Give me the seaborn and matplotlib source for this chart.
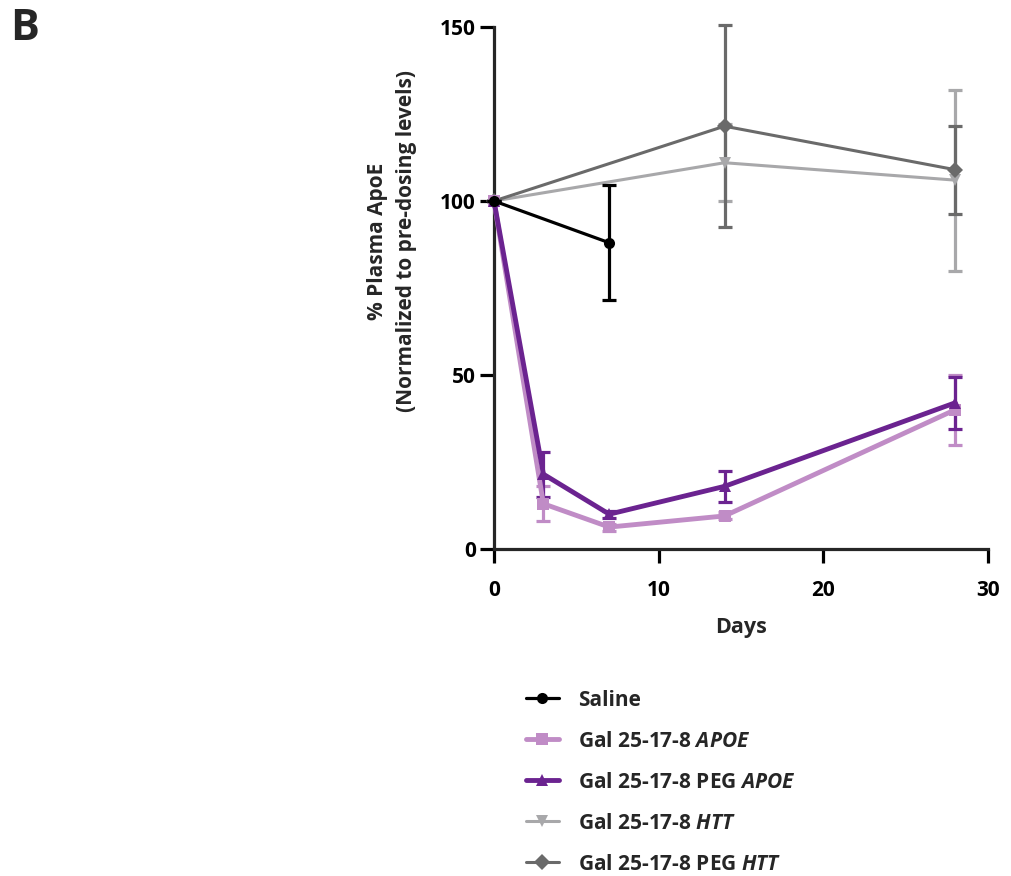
import numpy as np
import pandas as pd
import seaborn as sns
import matplotlib.pyplot as plt
from matplotlib.lines import Line2D

sns.set_style("ticks")
plt.rcParams['font.family'] = ['Open Sans', 'DejaVu Sans']
plt.rcParams['font.weight'] = 'bold'
plt.rcParams['mathtext.fontset'] = 'custom'
plt.rcParams['mathtext.it'] = 'Open Sans:bold:italic'
plt.rcParams['mathtext.rm'] = 'Open Sans:bold'

# Dados (media +/- SEM)
groups = ["Saline", "Gal 25-17-8 $\\it{APOE}$", "Gal 25-17-8 PEG $\\it{APOE}$",
          "Gal 25-17-8 $\\it{HTT}$", "Gal 25-17-8 PEG $\\it{HTT}$"]
saline_days = [0, 7]
saline_mean = [100, 88]
saline_sem = [0, 16.5]
apoe_days = [0, 3, 7, 14, 28]
apoe_mean = [100, 13, 6.3, 9.5, 40]
apoe_sem = [0, 5, 1, 1, 10]
peg_apoe_days = [0, 3, 7, 14, 28]
peg_apoe_mean = [100, 21.5, 10, 18, 42]
peg_apoe_sem = [0, 6.5, 1, 4.5, 7.5]
htt_days = [0, 14, 28]
htt_mean = [100, 111, 106]
htt_sem = [0, 11, 26]
peg_htt_days = [0, 14, 28]
peg_htt_mean = [100, 121.5, 109]
peg_htt_sem = [0, 29, 12.6]

colors = ["#000000", "#c08cc6", "#6b2390", "#a8a8aa", "#6a6a6a"]
markers = ["o", "s", "^", "v", "D"]
widths = [2.3, 3.5, 3.5, 2.2, 2.2]
zorders = [5, 3.3, 3.4, 3.1, 3.2]

series = [(saline_days, saline_mean, saline_sem),
          (apoe_days, apoe_mean, apoe_sem),
          (peg_apoe_days, peg_apoe_mean, peg_apoe_sem),
          (htt_days, htt_mean, htt_sem),
          (peg_htt_days, peg_htt_mean, peg_htt_sem)]

rows = []
for g, (d, m, s) in zip(groups, series):
    for di, mi, si in zip(d, m, s):
        rows.append({'Days': di, 'value': mi, 'sem': si, 'group': g})
df = pd.DataFrame(rows)

fig = plt.figure(figsize=(10.11, 8.76), dpi=100)
ax = fig.add_axes([494 / 1011, 1 - 549 / 876, 494 / 1011, 522 / 876])

for i, g in enumerate(groups):
    sub = df[df['group'] == g]
    ax.errorbar(sub['Days'], sub['value'], yerr=sub['sem'], fmt='none',
                ecolor=colors[i], elinewidth=2.3, capsize=5, capthick=2.3,
                zorder=zorders[i] - 1)
    sns.lineplot(data=sub, x='Days', y='value', color=colors[i],
                 marker=markers[i], markersize=8, markeredgewidth=0,
                 linewidth=widths[i], ax=ax, zorder=zorders[i], legend=False)

ax.set_xlim(0, 30)
ax.set_ylim(0, 150)
ax.set_xticks([0, 10, 20, 30])
ax.set_yticks([0, 50, 100, 150])
ax.margins(0)
for s in ['left', 'bottom']:
    ax.spines[s].set_linewidth(2.3)
    ax.spines[s].set_clip_on(False)
sns.despine(ax=ax)
ax.tick_params(axis='both', length=10, width=2.3, labelsize=15, colors='black')
ax.tick_params(axis='x', pad=12)
ax.tick_params(axis='y', pad=3)
for lab in ax.get_xticklabels() + ax.get_yticklabels():
    lab.set_fontweight('bold')
for line in ax.lines:
    line.set_clip_on(False)

ax.set_xlabel("Days", fontsize=15.5, fontweight='bold', labelpad=12)
ax.set_ylabel("")
fig.text(392 / 1011, 1 - 241 / 876,
         "% Plasma ApoE\n(Normalized to pre-dosing levels)",
         rotation=90, ha='center', va='center', fontsize=15,
         fontweight='bold', multialignment='center', linespacing=1.45)

fig.text(10 / 1011, 1 - 28 / 876, "B", fontsize=31, fontweight='bold',
         ha='left', va='center')

handles = [Line2D([0], [0], color=colors[i], marker=markers[i], markersize=8,
                  markeredgewidth=0, linewidth=widths[i]) for i in range(5)]
fig.legend(handles, groups, loc='upper left',
           bbox_to_anchor=(507 / 1011, 1 - 671 / 876), frameon=False,
           fontsize=15, handlelength=1.6, handletextpad=0.9,
           labelspacing=0.96)

fig.savefig("out.png", dpi=100)
